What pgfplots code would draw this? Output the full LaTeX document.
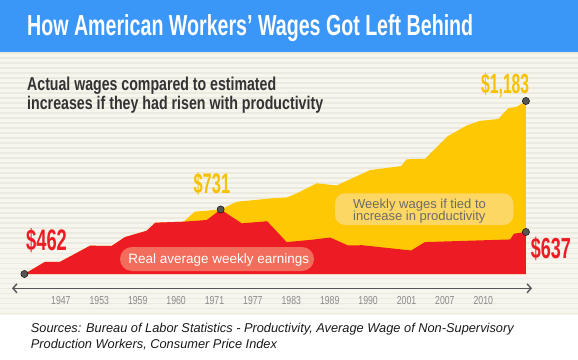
\documentclass[border=0pt]{standalone}
\usepackage{fontspec}
\setmainfont{Liberation Sans}
\usepackage{graphicx}
\usepackage{pgfplots}
\pgfplotsset{compat=1.18}
\usetikzlibrary{arrows.meta}
\definecolor{banner}{HTML}{3A96F7}
\definecolor{cream}{HTML}{F6F5EE}
\definecolor{stripe}{HTML}{ECEADF}
\definecolor{wred}{HTML}{ED1C24}
\definecolor{wyel}{HTML}{FFC805}
\definecolor{lblyel}{HTML}{F7C200}
\definecolor{pillred}{HTML}{F26D5B}
\definecolor{pillyel}{HTML}{FDD764}
\definecolor{dotgray}{HTML}{555555}
\definecolor{axgray}{HTML}{555555}
\definecolor{tickgray}{HTML}{8A8A8A}
\definecolor{subgray}{HTML}{333333}
\definecolor{boxtext}{HTML}{6B6B6B}
\definecolor{srcgray}{HTML}{1A1A1A}
\newcommand{\cnd}[3]{\resizebox{#1}{#2}{\bfseries #3}}
\newcommand{\tk}[1]{\scalebox{0.75}[1]{#1}}
\begin{document}
\begin{tikzpicture}
% page background, cream band with stripes, blue banner
\fill[white] (0pt,0pt) rectangle (578pt,359pt);
\fill[cream] (0pt,44pt) rectangle (578pt,307pt);
\foreach \i in {0,...,52} {\fill[stripe] (0pt,{45pt+\i*5pt}) rectangle ++(578pt,1.5pt);}
\fill[banner] (0pt,307pt) rectangle (578pt,359pt);
\begin{axis}[
  at={(0pt,0pt)}, anchor=south west,
  width=578pt, height=359pt, scale only axis,
  xmin=-0.5859, xmax=14.4661, ymin=107.72, ymax=1604.03,
  axis line style={draw=none}, tick style={draw=none},
  ytick=\empty,
  xtick={1,2,3,4,5,6,7,8,9,10,11,12},
  xticklabels={\tk{1947},\tk{1953},\tk{1959},\tk{1960},\tk{1971},\tk{1977},\tk{1983},\tk{1989},\tk{1990},\tk{2001},\tk{2007},\tk{2010}},
  xticklabel style={anchor=center, yshift=58.5pt, font=\fontsize{11.6}{12}\selectfont, text=tickgray},
  clip=false,
]
% weekly wages if tied to productivity
\addplot[fill=wyel, draw=none] coordinates {
 (0.05,462) (0.59,513) (0.98,513) (1.76,580) (2.32,579) (2.67,616) (3.23,642) (3.46,676)
 (4.19,680) (4.49,722) (5.16,731) (5.58,763) (6.53,778) (6.88,781) (7.14,798) (7.66,840)
 (8.18,831) (9.05,895) (9.86,912) (10.00,940) (10.48,942) (11.07,1036) (11.57,1081)
 (11.91,1100) (12.39,1108) (12.65,1153) (12.87,1159) (13.11,1183) (13.11,462)
};
% real average weekly earnings
\addplot[fill=wred, draw=none] coordinates {
 (0.05,462) (0.59,513) (0.98,513) (1.76,580) (2.32,579) (2.67,616) (3.23,642) (3.46,676)
 (4.19,680) (4.80,687) (5.16,731) (5.71,673) (6.37,682) (6.88,595) (7.49,604) (8.01,614)
 (8.48,581) (8.84,582) (10.12,560) (10.48,595) (12.70,606) (12.80,630) (13.11,637) (13.11,462)
};
\addplot[only marks, mark=*, mark size=3.6pt, mark options={fill=dotgray, draw=none}]
 coordinates {(0.05,462) (5.16,731) (13.11,637) (13.11,1183)};
\end{axis}
% time axis arrow
\draw[line width=1.4pt, axgray, {Straight Barb[length=4pt,width=9pt]}-{Straight Barb[length=4pt,width=9pt]}] (12pt,70.7pt) -- (532pt,70.7pt);
% pills
\fill[pillred, rounded corners=12pt] (120pt,88pt) rectangle (314pt,112pt);
\node[anchor=base, inner sep=0, text=white, font=\fontsize{13.5}{14}\selectfont] at (218.7pt,95.7pt) {Real average weekly earnings};
\fill[pillyel, rounded corners=10pt] (335pt,134pt) rectangle (513.3pt,165.7pt);
\node[anchor=base west, inner sep=0, text=boxtext, font=\fontsize{13}{14}\selectfont] at (353pt,150.6pt) {Weekly wages if tied to};
\node[anchor=base west, inner sep=0, text=boxtext, font=\fontsize{13}{14}\selectfont] at (353pt,138pt) {increase in productivity};
% title and subtitle
\node[anchor=base west, inner sep=0, text=white] at (27pt,323pt) {\cnd{446pt}{21pt}{How American Workers’ Wages Got Left Behind}};
\node[anchor=base west, inner sep=0, text=subgray] at (27pt,268.3pt) {\cnd{249pt}{13.5pt}{Actual wages compared to estimated}};
\node[anchor=base west, inner sep=0, text=subgray] at (27pt,249pt) {\cnd{296pt}{13.3pt}{increases if they had risen with productivity}};
% value labels
\node[anchor=base west, inner sep=0, text=lblyel] at (481pt,265.5pt) {\cnd{48pt}{20.5pt}{\$1,183}};
\node[anchor=base west, inner sep=0, text=lblyel] at (193.3pt,165.5pt) {\cnd{36.7pt}{21pt}{\$731}};
\node[anchor=base west, inner sep=0, text=wred] at (26pt,109pt) {\cnd{40.7pt}{22pt}{\$462}};
\node[anchor=base west, inner sep=0, text=wred] at (530.7pt,100.5pt) {\cnd{40pt}{21.5pt}{\$637}};
% sources
\node[anchor=base west, inner sep=0, text=srcgray, font=\itshape\fontsize{12.8}{14}\selectfont] at (30.7pt,26.3pt) {Sources: Bureau of Labor Statistics - Productivity, Average Wage of Non-Supervisory};
\node[anchor=base west, inner sep=0, text=srcgray, font=\itshape\fontsize{12.8}{14}\selectfont] at (30.7pt,10.7pt) {Production Workers, Consumer Price Index};
\end{tikzpicture}
\end{document}
